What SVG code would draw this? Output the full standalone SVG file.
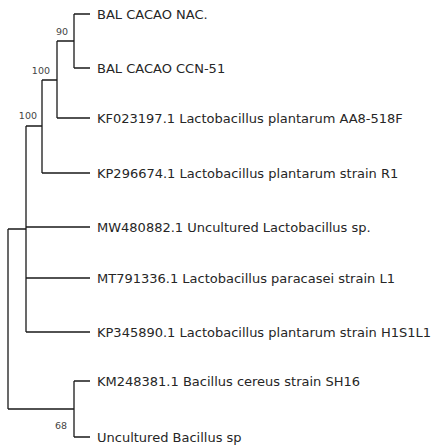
<svg xmlns="http://www.w3.org/2000/svg" width="432" height="445" viewBox="0 0 432 445">
<style>
.br{fill:none;stroke:#1a1a1a;stroke-width:1.3}
.lf{font-family:"DejaVu Sans",sans-serif;font-size:13px;fill:#262626}
.bs{font-family:"DejaVu Sans",sans-serif;font-size:9.5px;fill:#444;text-anchor:end}
</style>
<rect width="432" height="445" fill="#fff"/>
<g id="connectors">
<path class="br" d="M74 14V68M74 14H90M74 68H90"/>
<path class="br" d="M57 41V118M57 41H74M57 118H90"/>
<path class="br" d="M42 80V173M42 80H57M42 173H90"/>
<path class="br" d="M26 126V332M26 126H42M26 227H90M26 278H90M26 332H90"/>
<path class="br" d="M74 381V437M74 381H90M74 437H90"/>
<path class="br" d="M8 229V409M8 229H26M8 409H74"/>
</g>
<g id="n90"><text class="bs" x="68" y="35">90</text></g>
<g id="n100a"><text class="bs" x="50" y="74">100</text></g>
<g id="n100b"><text class="bs" x="37" y="119">100</text></g>
<g id="n68"><text class="bs" x="67" y="429">68</text></g>
<g id="leaf1"><text class="lf" x="97" y="18.5">BAL CACAO NAC.</text></g>
<g id="leaf2"><text class="lf" x="97" y="72.5">BAL CACAO CCN-51</text></g>
<g id="leaf3"><text class="lf" x="97" y="122.5">KF023197.1 Lactobacillus plantarum AA8-518F</text></g>
<g id="leaf4"><text class="lf" x="97" y="177.5">KP296674.1 Lactobacillus plantarum strain R1</text></g>
<g id="leaf5"><text class="lf" x="97" y="231.5">MW480882.1 Uncultured Lactobacillus sp.</text></g>
<g id="leaf6"><text class="lf" x="97" y="282.5">MT791336.1 Lactobacillus paracasei strain L1</text></g>
<g id="leaf7"><text class="lf" x="97" y="336.5">KP345890.1 Lactobacillus plantarum strain H1S1L1</text></g>
<g id="leaf8"><text class="lf" x="97" y="385.5">KM248381.1 Bacillus cereus strain SH16</text></g>
<g id="leaf9"><text class="lf" x="97" y="441.5">Uncultured Bacillus sp</text></g>
</svg>
